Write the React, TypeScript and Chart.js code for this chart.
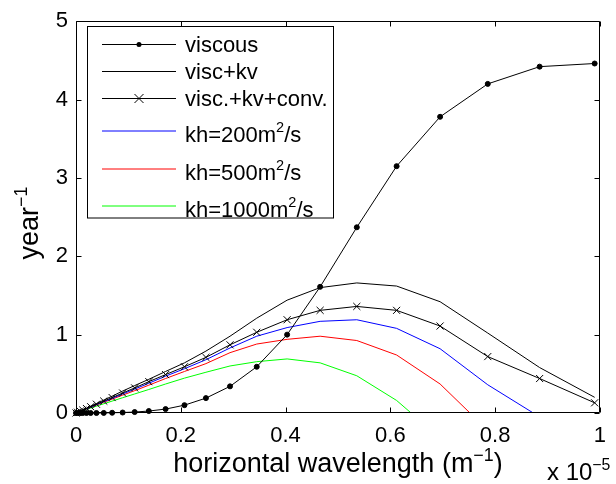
import { useEffect, useRef } from 'react';
import { Chart, registerables } from 'chart.js';

Chart.register(...registerables);

const FONT = '"Liberation Sans", Arial, Helvetica, sans-serif';

// horizontal wavenumber (x 1e-5 m^-1)
const xValues = [0, 0.003, 0.008, 0.013, 0.02, 0.028, 0.039, 0.053, 0.069, 0.089, 0.112, 0.139, 0.171, 0.207, 0.248, 0.294, 0.345, 0.403, 0.466, 0.536, 0.612, 0.695, 0.786, 0.885, 0.99];

const viscous = [0, 0, 0, 0, 0, 0, 0, 0.001, 0.003, 0.006, 0.012, 0.025, 0.05, 0.1, 0.19, 0.34, 0.59, 1.0, 1.61, 2.37, 3.15, 3.78, 4.2, 4.42, 4.46];
const viscKv = [0, 0.009, 0.025, 0.04, 0.062, 0.087, 0.12, 0.165, 0.215, 0.28, 0.35, 0.43, 0.53, 0.64, 0.79, 0.98, 1.21, 1.44, 1.6, 1.66, 1.62, 1.42, 1.02, 0.58, 0.2];
const viscKvConv = [0, 0.009, 0.023, 0.037, 0.057, 0.08, 0.112, 0.152, 0.197, 0.255, 0.32, 0.4, 0.49, 0.59, 0.71, 0.87, 1.03, 1.19, 1.31, 1.36, 1.31, 1.11, 0.72, 0.44, 0.13];
const kh200 = [0, 0.008, 0.022, 0.035, 0.054, 0.076, 0.106, 0.144, 0.187, 0.243, 0.305, 0.38, 0.47, 0.565, 0.68, 0.83, 0.98, 1.09, 1.17, 1.19, 1.08, 0.82, 0.36, -0.05, null];
const kh500 = [0, 0.008, 0.021, 0.034, 0.052, 0.073, 0.101, 0.137, 0.177, 0.228, 0.285, 0.355, 0.44, 0.53, 0.63, 0.77, 0.88, 0.94, 0.98, 0.925, 0.74, 0.37, -0.22, null, null];
const kh1000 = [0, 0.007, 0.018, 0.03, 0.045, 0.063, 0.087, 0.118, 0.152, 0.195, 0.243, 0.3, 0.37, 0.445, 0.52, 0.6, 0.655, 0.69, 0.64, 0.475, 0.16, -0.32, null, null, null];

const seriesNames = ['viscous', 'visc+kv', 'visc.+kv+conv.', 'kh=200m^{2}/s', 'kh=500m^{2}/s', 'kh=1000m^{2}/s'];
const seriesValues = [viscous, viscKv, viscKvConv, kh200, kh500, kh1000];
const seriesColors = ['#000000', '#000000', '#000000', '#0000ff', '#ff0000', '#00ff00'];
const seriesMarkers: (string | null)[] = ['circle', null, 'crossRot', null, null, null];

const xTitle = 'horizontal wavelength (m^{−1})';
const yTitle = 'year^{−1}';
const xExponent = 'x 10^{−5}';

function parseRich(text: string) {
  const parts: { t: string; sup: boolean }[] = [];
  const re = /\^\{([^}]*)\}/g;
  let last = 0;
  let m: RegExpExecArray | null;
  while ((m = re.exec(text))) {
    if (m.index > last) parts.push({ t: text.slice(last, m.index), sup: false });
    parts.push({ t: m[1], sup: true });
    last = re.lastIndex;
  }
  if (last < text.length) parts.push({ t: text.slice(last), sup: false });
  return parts;
}

function drawRich(ctx: CanvasRenderingContext2D, text: string, x: number, y: number, size: number, align: 'left' | 'center') {
  const parts = parseRich(text);
  const supSize = size * 0.66;
  const widths = parts.map((p) => {
    ctx.font = `${p.sup ? supSize : size}px ${FONT}`;
    return ctx.measureText(p.t).width;
  });
  const total = widths.reduce((a, b) => a + b, 0);
  let cx = align === 'center' ? x - total / 2 : x;
  ctx.textAlign = 'left';
  ctx.textBaseline = 'alphabetic';
  ctx.fillStyle = '#000';
  parts.forEach((p, i) => {
    ctx.font = `${p.sup ? supSize : size}px ${FONT}`;
    ctx.fillText(p.t, cx, p.sup ? y - size * 0.42 : y);
    cx += widths[i];
  });
}

const overlayPlugin = {
  id: 'overlay',
  afterDraw(chart: any) {
    const ctx: CanvasRenderingContext2D = chart.ctx;
    const a = chart.chartArea;
    const xs = chart.scales.x;
    const ys = chart.scales.y;
    ctx.save();
    ctx.strokeStyle = '#000';
    ctx.lineWidth = 1;
    const L = Math.round(a.left) + 0.5;
    const R = Math.round(a.right) - 0.5;
    const T = Math.round(a.top) + 0.5;
    const B = Math.round(a.bottom) - 0.5;
    ctx.beginPath();
    ctx.rect(L, T, R - L, B - T);
    ctx.stroke();
    const tl = 5;
    ctx.beginPath();
    xs.ticks.forEach((t: any) => {
      const px = Math.round(xs.getPixelForValue(t.value)) + 0.5;
      ctx.moveTo(px, B); ctx.lineTo(px, B - tl);
      ctx.moveTo(px, T); ctx.lineTo(px, T + tl);
    });
    ys.ticks.forEach((t: any) => {
      const py = Math.round(ys.getPixelForValue(t.value)) + 0.5;
      ctx.moveTo(L, py); ctx.lineTo(L + tl, py);
      ctx.moveTo(R, py); ctx.lineTo(R - tl, py);
    });
    ctx.stroke();

    // titles
    drawRich(ctx, xTitle, (a.left + a.right) / 2, 472, 27, 'center');
    drawRich(ctx, xExponent, 547, 480, 24, 'left');
    ctx.save();
    ctx.translate(38, (a.top + a.bottom) / 2 + 6);
    ctx.rotate(-Math.PI / 2);
    drawRich(ctx, yTitle, 0, 0, 27, 'center');
    ctx.restore();

    // legend
    const bx = 87.5, by = 26.5, bw = 246, bh = 191.5;
    ctx.fillStyle = '#fff';
    ctx.fillRect(bx, by, bw, bh);
    ctx.strokeStyle = '#000';
    ctx.strokeRect(bx, by, bw, bh);
    const rowY = [44.5, 71.5, 98.5, 131, 169, 206];
    seriesNames.forEach((name, i) => {
      const y = rowY[i];
      ctx.strokeStyle = seriesColors[i];
      ctx.lineWidth = 1;
      ctx.beginPath();
      ctx.moveTo(102, y);
      ctx.lineTo(176, y);
      ctx.stroke();
      const mk = seriesMarkers[i];
      if (mk === 'circle') {
        ctx.fillStyle = seriesColors[i];
        ctx.beginPath();
        ctx.arc(139, y, 2.5, 0, Math.PI * 2);
        ctx.fill();
      } else if (mk === 'crossRot') {
        ctx.beginPath();
        ctx.moveTo(134.5, y - 4.5); ctx.lineTo(143.5, y + 4.5);
        ctx.moveTo(134.5, y + 4.5); ctx.lineTo(143.5, y - 4.5);
        ctx.stroke();
      }
      const hasSup = name.includes('^{');
      drawRich(ctx, name, 185, y + (hasSup ? 10.5 : 7), 22, 'left');
    });
    ctx.restore();
  },
};

export default function App() {
  const ref = useRef<HTMLCanvasElement | null>(null);
  useEffect(() => {
    document.body.style.margin = '0';
    const canvas = ref.current;
    if (!canvas) return;
    const datasets = seriesNames.map((name, i) => {
      const mk = seriesMarkers[i];
      return {
        label: name,
        data: xValues.map((x, j) => ({ x, y: seriesValues[i][j] as number | null })),
        borderColor: seriesColors[i],
        backgroundColor: seriesColors[i],
        borderWidth: 1,
        tension: 0,
        pointStyle: (mk || 'circle') as any,
        pointRadius: mk === 'circle' ? 2.5 : mk === 'crossRot' ? 5 : 0,
        pointBorderWidth: 1,
        pointBorderColor: seriesColors[i],
        pointBackgroundColor: seriesColors[i],
        clip: mk ? (false as any) : 0,
        spanGaps: false,
      };
    });
    const chart = new Chart(canvas, {
      type: 'line',
      data: { datasets },
      options: {
        animation: false,
        responsive: false,
        maintainAspectRatio: false,
        devicePixelRatio: 1,
        layout: { padding: { left: 0, right: 9, top: 15, bottom: 0 } },
        plugins: { legend: { display: false }, tooltip: { enabled: false } },
        scales: {
          x: {
            type: 'linear',
            min: 0,
            max: 1,
            ticks: {
              stepSize: 0.2,
              color: '#000',
              font: { family: FONT, size: 22 },
              padding: 10,
              maxRotation: 0,
              callback: (v: any) => String(Number(Number(v).toFixed(1))),
            },
            grid: { display: false, drawTicks: false },
            border: { display: false },
            afterFit: (s: any) => { s.height = 71; },
          },
          y: {
            type: 'linear',
            min: 0,
            max: 5,
            ticks: {
              stepSize: 1,
              color: '#000',
              font: { family: FONT, size: 22 },
              padding: 8,
            },
            grid: { display: false, drawTicks: false },
            border: { display: false },
            afterFit: (s: any) => { s.width = 76; },
          },
        },
      },
      plugins: [overlayPlugin],
    });
    return () => chart.destroy();
  }, []);
  return <canvas ref={ref} width={616} height={484} style={{ display: 'block' }} />;
}
